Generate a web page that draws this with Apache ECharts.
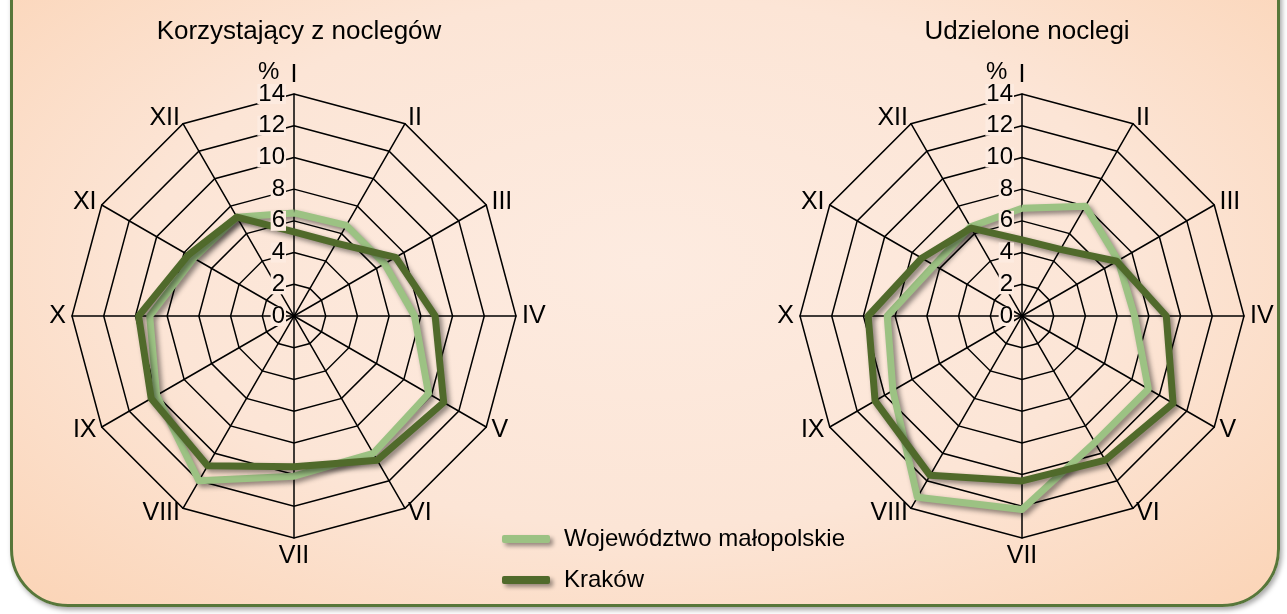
<!DOCTYPE html>
<html>
<head>
<meta charset="UTF-8">
<title>Noclegi</title>
<script src="https://cdn.jsdelivr.net/npm/echarts@6/dist/echarts.min.js"></script>
<style>
    html, body { margin: 0; padding: 0; background: #fff; }
    #frame {
        position: absolute; left: 10px; top: -20px; width: 1270px; height: 627px;
        box-sizing: border-box;
        border: 3px solid #57773a; border-radius: 0 0 58px 58px;
        background: radial-gradient(ellipse at 50% 45%, #fdebe0 0%, #fce5d6 55%, #fbd4b6 100%);
        box-shadow: 2px 3px 5px rgba(0,0,0,0.35);
    }
    #chart { position: absolute; left: 0; top: 0; width: 1287px; height: 614px; }
</style>
</head>
<body>
<div id="frame"></div>
<div id="chart"></div>
<script>
    // data
    var months = ['I', 'II', 'III', 'IV', 'V', 'VI', 'VII', 'VIII', 'IX', 'X', 'XI', 'XII'];
    var titles = ['Korzystający z noclegów', 'Udzielone noclegi'];
    var seriesNames = ['Województwo małopolskie', 'Kraków'];
    var korzystajacyWoj = [6.5, 6.6, 6.6, 7.6, 9.8, 10.0, 10.1, 12.0, 10.0, 9.1, 7.3, 7.2];
    var korzystajacyKrk = [5.3, 5.3, 7.4, 8.9, 10.9, 10.5, 9.5, 10.9, 10.4, 9.8, 7.7, 7.2];
    var udzieloneWoj = [6.8, 8.0, 7.0, 7.1, 9.2, 9.2, 12.2, 13.2, 9.4, 8.5, 6.4, 6.5];
    var udzieloneKrk = [4.8, 4.85, 6.9, 9.1, 11.0, 10.5, 10.4, 11.6, 10.7, 9.7, 7.3, 6.4];
    var axisMax = 14;

    var FONT = '"Liberation Sans", Arial, sans-serif';
    var LIGHT = '#9cc283';
    var DARK = '#506a2b';
    var centers = [294, 1022];
    var cy = 316;

    // echarts radar runs counter-clockwise, months go clockwise
    var order = [0];
    for (var i = months.length - 1; i > 0; i--) order.push(i);
    function reorder(arr) {
        return order.map(function (i) { return arr[i]; });
    }

    // the web itself (under the lines)
    function radarOpt(cx) {
        return {
            center: [cx, cy],
            radius: 222,
            startAngle: 90,
            shape: 'polygon',
            splitNumber: 7,
            nameGap: 6,
            indicator: order.map(function (i) {
                return { name: months[i], min: 0, max: axisMax };
            }),
            axisName: { color: '#000', fontSize: 25, fontFamily: FONT },
            axisLine: { lineStyle: { color: '#000', width: 1.5 } },
            splitLine: { lineStyle: { color: '#000', width: 1.5 } },
            splitArea: { show: false },
            axisTick: { show: false },
            axisLabel: { show: false }
        };
    }

    // same web again, only the % scale, drawn over the lines
    function scaleOpt(cx) {
        return {
            z: 10,
            center: [cx, cy],
            radius: 222,
            startAngle: 90,
            shape: 'polygon',
            splitNumber: 7,
            indicator: order.map(function (i, k) {
                return { name: months[i], min: 0, max: axisMax, axisLabel: { show: k === 0 } };
            }),
            axisName: { show: false },
            axisLine: { show: false },
            splitLine: { show: false },
            splitArea: { show: false },
            axisTick: { show: false },
            axisLabel: {
                show: true, color: '#000', fontSize: 24, fontFamily: FONT, margin: 8,
                backgroundColor: '#fdebe0', padding: [-2, 1, -2, 1]
            }
        };
    }

    function lineItem(name, values, color) {
        return {
            name: name,
            value: reorder(values),
            symbol: 'none',
            itemStyle: { color: color },
            lineStyle: {
                color: color, width: 7, join: 'round',
                shadowColor: 'rgba(0,0,0,0.45)', shadowBlur: 5, shadowOffsetX: 3, shadowOffsetY: 3
            },
            areaStyle: { opacity: 0 }
        };
    }

    var myChart = echarts.init(document.getElementById('chart'));
    var option = {
        animation: false,
        backgroundColor: 'transparent',
        title: titles.map(function (t, k) {
            return {
                text: t, left: centers[k], top: 14, textAlign: 'center',
                textStyle: { fontSize: 26, fontWeight: 'normal', color: '#000', fontFamily: FONT }
            };
        }),
        legend: {
            orient: 'vertical', left: 497, top: 522,
            itemWidth: 48, itemHeight: 8, itemGap: 17,
            icon: 'roundRect',
            data: seriesNames,
            itemStyle: { shadowColor: 'rgba(0,0,0,0.4)', shadowBlur: 4, shadowOffsetX: 3, shadowOffsetY: 3 },
            textStyle: { fontSize: 24, color: '#000', fontFamily: FONT, padding: [0, 0, 0, 9] }
        },
        radar: [radarOpt(centers[0]), radarOpt(centers[1]), scaleOpt(centers[0]), scaleOpt(centers[1])],
        graphic: centers.map(function (cx) {
            return {
                type: 'text', left: cx - 36, top: 60,
                style: { text: '%', fontSize: 24, fontFamily: FONT, fill: '#000' }
            };
        }),
        series: [
            {
                type: 'radar', radarIndex: 0,
                data: [lineItem(seriesNames[0], korzystajacyWoj, LIGHT), lineItem(seriesNames[1], korzystajacyKrk, DARK)]
            },
            {
                type: 'radar', radarIndex: 1,
                data: [lineItem(seriesNames[0], udzieloneWoj, LIGHT), lineItem(seriesNames[1], udzieloneKrk, DARK)]
            }
        ]
    };
    myChart.setOption(option);
</script>
</body>
</html>
